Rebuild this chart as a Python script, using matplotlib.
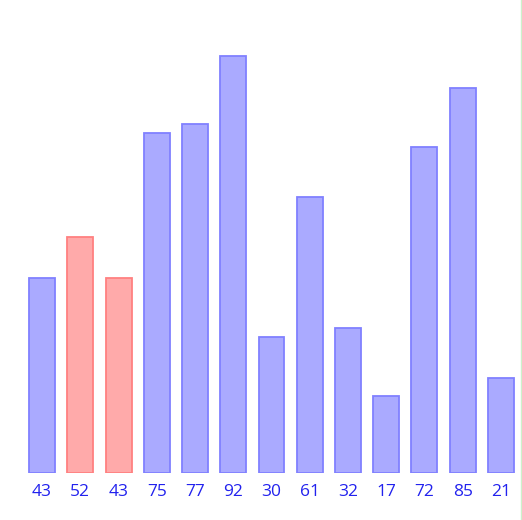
import matplotlib
matplotlib.use("Agg")
import matplotlib.pyplot as plt
from matplotlib.lines import Line2D

# values shown under each bar
values = [43, 52, 43, 75, 77, 92, 30, 61, 32, 17, 72, 85, 21]
highlighted = [1, 2]  # bars drawn in red
labels = [str(v) for v in values]

blue_fill, blue_edge = "#aaaaff", "#8080ff"
red_fill, red_edge = "#ffaaaa", "#ff8080"

fig = plt.figure(figsize=(5.22, 5.20), dpi=100)
ax = fig.add_axes([23 / 522, 47 / 520, 497 / 522, 473 / 520])

fills = [red_fill if i in highlighted else blue_fill for i in range(len(values))]
edges = [red_edge if i in highlighted else blue_edge for i in range(len(values))]
ax.bar(range(len(values)), values, width=0.68, color=fills, edgecolor=edges, linewidth=1.3)

ax.set_xlim(-0.5, len(values) - 0.5)
ax.set_ylim(0, 104.4)
ax.set_xticks(range(len(values)))
ax.set_xticklabels(labels, color="#2222ee", fontsize=12.5, family="Open Sans")
ax.tick_params(axis="x", length=0, pad=8)
ax.set_yticks([])
for s in ax.spines.values():
    s.set_visible(False)

# faint border line on the right edge
fig.add_artist(Line2D([521 / 522, 521 / 522], [0, 1], color="#ccf2cc", linewidth=1))

fig.savefig("out.png", dpi=100)
